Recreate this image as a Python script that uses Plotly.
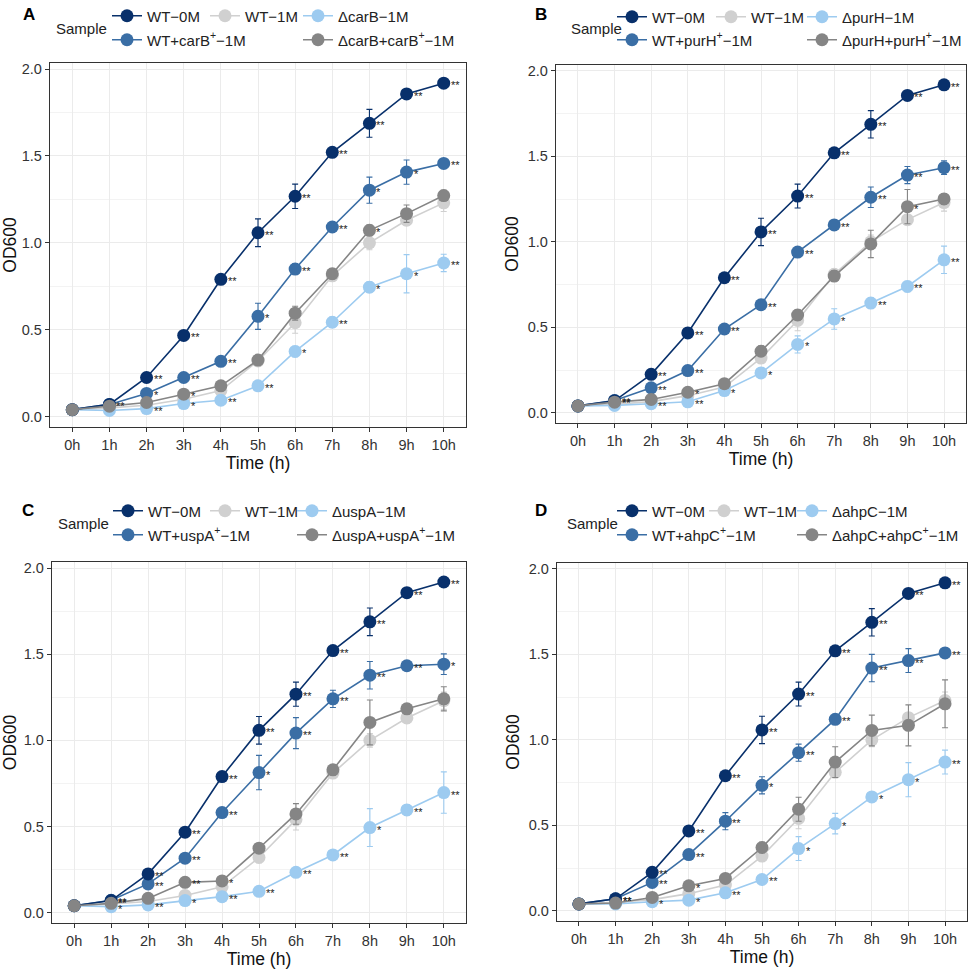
import plotly.graph_objects as go

W, H = 968, 975
FONT = "Liberation Sans, Arial, sans-serif"

hours = ["0h", "1h", "2h", "3h", "4h", "5h", "6h", "7h", "8h", "9h", "10h"]
panel_labels = ["A", "B", "C", "D"]
genes = ["carB", "purH", "uspA", "ahpC"]

# shared controls
wt0_vals = [0.04, 0.07, 0.225, 0.467, 0.79, 1.058, 1.268, 1.521, 1.688, 1.857, 1.919]
wt0_err = [0.005, 0.01, 0.015, 0.02, 0.02, 0.08, 0.07, 0.02, 0.08, 0.02, 0.02]
wt1_vals = [0.04, 0.05, 0.065, 0.10, 0.15, 0.32, 0.54, 0.81, 1.00, 1.13, 1.23]
wt1_err = [0.005, 0.005, 0.01, 0.01, 0.01, 0.03, 0.06, 0.03, 0.04, 0.03, 0.05]

# WT + gene+ - 1M
plus_vals = [
    [0.04, 0.07, 0.133, 0.225, 0.318, 0.577, 0.849, 1.091, 1.303, 1.407, 1.457],
    [0.04, 0.072, 0.146, 0.247, 0.49, 0.632, 0.94, 1.099, 1.261, 1.391, 1.434],
    [0.04, 0.072, 0.167, 0.316, 0.581, 0.813, 1.042, 1.241, 1.378, 1.433, 1.442],
    [0.04, 0.07, 0.166, 0.329, 0.524, 0.734, 0.925, 1.12, 1.42, 1.464, 1.509],
]
plus_err = [
    [0.005, 0.01, 0.01, 0.01, 0.02, 0.075, 0.03, 0.02, 0.075, 0.07, 0.02],
    [0.005, 0.01, 0.01, 0.01, 0.02, 0.02, 0.02, 0.02, 0.06, 0.05, 0.04],
    [0.005, 0.01, 0.01, 0.02, 0.02, 0.10, 0.09, 0.05, 0.08, 0.02, 0.06],
    [0.005, 0.01, 0.01, 0.02, 0.05, 0.05, 0.05, 0.02, 0.08, 0.07, 0.02],
]
# deletion mutant - 1M
mut_vals = [
    [0.04, 0.035, 0.046, 0.075, 0.094, 0.177, 0.375, 0.543, 0.745, 0.822, 0.884],
    [0.04, 0.043, 0.053, 0.064, 0.13, 0.233, 0.40, 0.549, 0.642, 0.739, 0.895],
    [0.04, 0.035, 0.045, 0.07, 0.093, 0.124, 0.234, 0.335, 0.494, 0.596, 0.697],
    [0.04, 0.04, 0.053, 0.062, 0.105, 0.183, 0.364, 0.51, 0.666, 0.767, 0.87],
]
mut_err = [
    [0.005, 0.005, 0.005, 0.01, 0.01, 0.02, 0.03, 0.03, 0.03, 0.11, 0.05],
    [0.005, 0.005, 0.005, 0.01, 0.01, 0.02, 0.05, 0.06, 0.03, 0.03, 0.08],
    [0.005, 0.005, 0.005, 0.01, 0.01, 0.02, 0.02, 0.02, 0.11, 0.03, 0.12],
    [0.005, 0.005, 0.005, 0.01, 0.01, 0.02, 0.07, 0.06, 0.02, 0.10, 0.07],
]
# complemented mutant - 1M
comp_vals = [
    [0.04, 0.06, 0.081, 0.129, 0.177, 0.325, 0.595, 0.822, 1.072, 1.168, 1.272],
    [0.04, 0.062, 0.078, 0.12, 0.17, 0.36, 0.572, 0.80, 0.988, 1.206, 1.251],
    [0.04, 0.054, 0.083, 0.176, 0.184, 0.374, 0.573, 0.829, 1.104, 1.183, 1.241],
    [0.04, 0.045, 0.078, 0.146, 0.189, 0.37, 0.594, 0.87, 1.055, 1.085, 1.211],
]
comp_err = [
    [0.005, 0.01, 0.01, 0.01, 0.02, 0.02, 0.04, 0.03, 0.03, 0.05, 0.03],
    [0.005, 0.01, 0.01, 0.01, 0.02, 0.03, 0.03, 0.03, 0.08, 0.10, 0.03],
    [0.005, 0.01, 0.01, 0.02, 0.02, 0.02, 0.06, 0.03, 0.13, 0.03, 0.07],
    [0.005, 0.01, 0.01, 0.02, 0.02, 0.03, 0.07, 0.09, 0.09, 0.12, 0.14],
]

# significance marks
wt0_stars = ["", "**", "**", "**", "**", "**", "**", "**", "**", "**", "**"]
plus_stars = [
    ["", "", "*", "**", "**", "*", "**", "**", "*", "*", "**"],
    ["", "**", "**", "**", "**", "**", "**", "**", "**", "**", "**"],
    ["", "**", "**", "**", "**", "*", "**", "**", "**", "**", "*"],
    ["", "**", "**", "**", "**", "*", "**", "**", "**", "**", "**"],
]
mut_stars = [
    ["", "", "**", "*", "**", "**", "*", "**", "*", "*", "**"],
    ["", "", "**", "**", "*", "*", "*", "*", "**", "**", "**"],
    ["", "*", "**", "*", "**", "**", "**", "**", "*", "**", "**"],
    ["", "", "*", "*", "**", "**", "*", "*", "*", "*", "**"],
]
comp_stars = [
    ["", "", "", "*", "", "", "", "", "*", "", ""],
    ["", "", "", "*", "", "", "", "", "", "*", ""],
    ["", "", "", "**", "*", "", "", "", "", "", ""],
    ["", "", "", "*", "", "", "", "", "", "", ""],
]

C_WT0 = "#08306B"
C_WT1 = "#D0D0D0"
C_MUT = "#9DCBF0"
C_PLUS = "#3A6EA5"
C_COMP = "#858585"

# layout geometry (pixels)
plot_boxes = [(50, 466, 63, 427), (556, 966, 65, 423), (52, 466, 562, 923), (557, 967, 563, 921)]
# x of legend label text start for columns 1..3
legend_cols = [(147, 245, 338), (652, 751, 842), (148, 245, 332), (652, 744, 832)]
legend_rows = [(16, 40), (17, 40), (511, 535), (511, 535)]
sample_pos = [(81, 28), (596, 28), (83, 523), (592, 523)]
letter_pos = [(29, 15), (541, 15), (28, 510), (541, 510)]
LEG_OFF = 40  # legend left edge to label text start (px)
SUP = "<sup>+</sup>"

fig = go.Figure()
annotations = []
layout = {}


def px2x(p):
    return p / W


def px2y(p):
    return 1 - p / H


for i in range(4):
    g = genes[i]
    ax = "" if i == 0 else str(i + 1)
    xref, yref = "x" + ax, "y" + ax
    c1, c2, c3 = legend_cols[i]
    r1, r2 = legend_rows[i]
    # name, values, errors, colour, legend cell, stars
    series = [
        ("WT−1M", wt1_vals, wt1_err, C_WT1, (c2, r1), None),
        (f"Δ{g}−1M", mut_vals[i], mut_err[i], C_MUT, (c3, r1), mut_stars[i]),
        (f"WT+{g}{SUP}−1M", plus_vals[i], plus_err[i], C_PLUS, (c1, r2), plus_stars[i]),
        ("WT−0M", wt0_vals, wt0_err, C_WT0, (c1, r1), wt0_stars),
        (f"Δ{g}+{g}{SUP}−1M", comp_vals[i], comp_err[i], C_COMP, (c3, r2), comp_stars[i]),
    ]
    for j, (name, vals, err, col, cell, stars) in enumerate(series):
        idx = 5 * i + j + 1
        leg = "legend" if idx == 1 else "legend" + str(idx)
        fig.add_trace(go.Scatter(
            x=hours, y=vals, name=name, mode="lines+markers",
            line=dict(color=col, width=1.6),
            marker=dict(color=col, size=13),
            error_y=dict(type="data", array=err, color=col, thickness=1.1, width=3),
            xaxis=xref, yaxis=yref, legend=leg,
        ))
        layout[leg] = dict(
            orientation="h", xanchor="left", yanchor="middle",
            x=px2x(cell[0] - LEG_OFF), y=px2y(cell[1]),
            bgcolor="rgba(0,0,0,0)", borderwidth=0, itemwidth=30,
            font=dict(size=15, color="#222222", family=FONT),
            tracegroupgap=0, itemclick=False, itemdoubleclick=False,
        )
        if stars:
            for h, v, s in zip(hours, vals, stars):
                if s:
                    annotations.append(dict(
                        x=h, y=v, xref=xref, yref=yref, text=s, showarrow=False,
                        xanchor="left", yanchor="middle", xshift=5, yshift=-2,
                        font=dict(size=11, color="#222222", family=FONT)))
    x0, x1, y0, y1 = plot_boxes[i]
    layout["xaxis" + ax] = dict(
        domain=[px2x(x0), px2x(x1)], anchor=yref, type="category",
        categoryorder="array", categoryarray=hours, range=[-0.6, 10.6],
        showgrid=True, gridcolor="#EBEBEB", gridwidth=1,
        showline=True, mirror=True, linecolor="#333333", linewidth=1.3,
        ticks="outside", ticklen=4, tickcolor="#333333", tickwidth=1,
        tickfont=dict(size=14.5, color="#333333", family=FONT),
        title=dict(text="Time (h)", standoff=4, font=dict(size=17.5, color="#111111", family=FONT)),
        zeroline=False, fixedrange=True,
    )
    layout["yaxis" + ax] = dict(
        domain=[px2y(y1), px2y(y0)], anchor=xref, range=[-0.06, 2.035],
        tickvals=[0, 0.5, 1.0, 1.5, 2.0], ticktext=["0.0", "0.5", "1.0", "1.5", "2.0"],
        showgrid=True, gridcolor="#EBEBEB", gridwidth=1,
        minor=dict(tick0=0.25, dtick=0.5, showgrid=True, gridcolor="#F3F3F3", gridwidth=0.8),
        showline=True, mirror=True, linecolor="#333333", linewidth=1.3,
        ticks="outside", ticklen=4, tickcolor="#333333", tickwidth=1,
        tickfont=dict(size=14.5, color="#333333", family=FONT),
        title=dict(text="OD600", standoff=4, font=dict(size=17.5, color="#111111", family=FONT)),
        zeroline=False, fixedrange=True,
    )
    sx, sy = sample_pos[i]
    annotations.append(dict(x=px2x(sx), y=px2y(sy), xref="paper", yref="paper", text="Sample",
                            showarrow=False, xanchor="center", yanchor="middle",
                            font=dict(size=15, color="#222222", family=FONT)))
    tx, ty = letter_pos[i]
    annotations.append(dict(x=px2x(tx), y=px2y(ty), xref="paper", yref="paper",
                            text="<b>" + panel_labels[i] + "</b>",
                            showarrow=False, xanchor="center", yanchor="middle",
                            font=dict(size=17, color="#000000", family=FONT)))

fig.update_layout(
    width=W, height=H, margin=dict(l=0, r=0, t=0, b=0, autoexpand=False),
    paper_bgcolor="white", plot_bgcolor="white",
    showlegend=True, annotations=annotations, **layout,
)
fig.write_html(
    "out.html",
    config={"displayModeBar": False},
    post_script="document.body.style.margin='0px';document.body.style.overflow='hidden';",
)
